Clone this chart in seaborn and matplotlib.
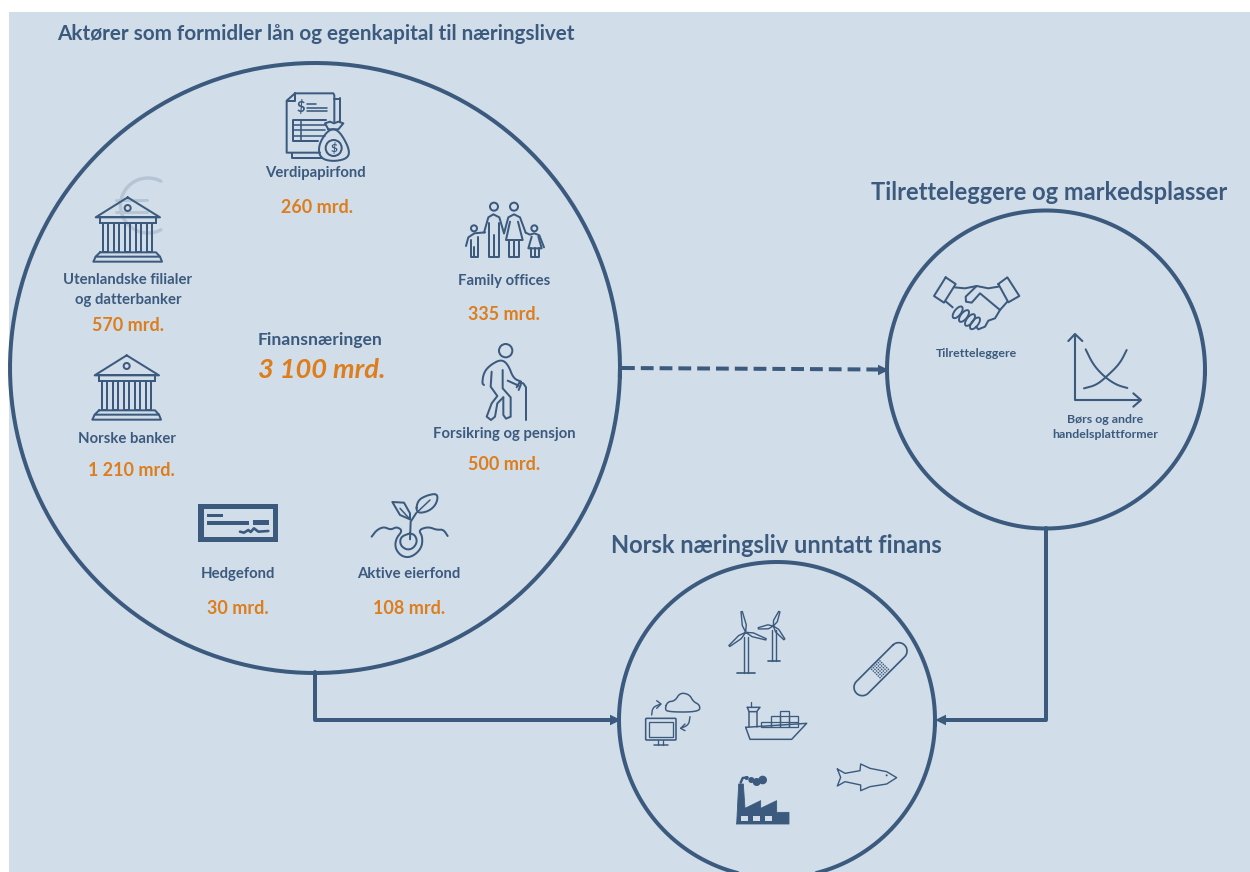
import numpy as np
import pandas as pd
import matplotlib
matplotlib.use("Agg")
import matplotlib.pyplot as plt
from matplotlib.patches import Rectangle, Circle, Ellipse, FancyBboxPatch
import seaborn as sns

# ---------- content ----------
title_main = "Aktører som formidler lån og egenkapital til næringslivet"
title_right = "Tilretteleggere og markedsplasser"
title_bottom = "Norsk næringsliv unntatt finans"
total_label = "Finansnæringen"
total_value = 3100
actors = ["Utenlandske filialer\nog datterbanker", "Norske banker", "Verdipapirfond",
          "Family offices", "Forsikring og pensjon", "Hedgefond", "Aktive eierfond"]
amounts = [570, 1210, 260, 335, 500, 30, 108]
facilitators = ["Tilretteleggere", "Børs og andre\nhandelsplattformer"]

NAVY = "#3b5a7d"
ORANGE = "#dd7d1b"
BG = "#d1dde9"
EURO = "#b6c5d4"

sns.set_theme(style="white")
plt.rcParams["font.family"] = ["Lato", "DejaVu Sans"]

fig = plt.figure(figsize=(12.5, 8.72), dpi=100, facecolor="white")
ax = fig.add_axes([0, 0, 1, 1])
ax.axis("off")
ax.add_patch(Rectangle((9, 12), 1241, 860, fc=BG, ec="none", zorder=0))

PX = 0.72  # points per pixel
DY = 1.5   # vertical text nudge


def amount_text(v):
    return f"{v:,}".replace(",", " ") + " mrd."


def seaborn_line(xs, ys, lw=4.0, **kw):
    df = pd.DataFrame({"x": xs, "y": ys})
    sns.lineplot(data=df, x="x", y="y", sort=False, estimator=None, ax=ax, color=NAVY,
                 linewidth=lw * PX, legend=False, zorder=3, **kw)


def big_circle(cx, cy, r):
    t = np.linspace(0, 2 * np.pi + 0.03, 365)
    seaborn_line(cx + r * np.cos(t), cy + r * np.sin(t))


def arrowhead(x, y, dx, dy, size=11):
    nx, ny = -dy, dx
    ax.fill([x, x - dx * size + nx * size * .48, x - dx * size - nx * size * .48],
            [y, y - dy * size + ny * size * .48, y - dy * size - ny * size * .48],
            color=NAVY, lw=0, zorder=4)


def z(o, pts):
    a = np.asarray(pts, float) / 3.0
    return a + np.asarray(o, float)


def smooth(a, n=3, closed=False):
    a = np.asarray(a, float)
    for _ in range(n):
        if closed:
            b = np.roll(a, -1, axis=0)
            a = np.column_stack([.75 * a + .25 * b, .25 * a + .75 * b]).reshape(-1, 2)
        else:
            s, e = a[0], a[-1]
            q = .75 * a[:-1] + .25 * a[1:]
            r = .25 * a[:-1] + .75 * a[1:]
            a = np.vstack([s, np.column_stack([q, r]).reshape(-1, 2), e])
    return a


def pl(o, pts, lw=2.0, closed=False, soft=False, color=NAVY, fill=None):
    a = z(o, pts)
    if soft:
        a = smooth(a, closed=closed)
    if closed:
        a = np.vstack([a, a[0]])
    if fill:
        ax.fill(a[:, 0], a[:, 1], color=fill, lw=0, zorder=4)
    ax.plot(a[:, 0], a[:, 1], color=color, lw=lw * PX, solid_capstyle="round",
            solid_joinstyle="round", zorder=5)


def ring(o, c, r, lw=2.0, fill="none"):
    p = z(o, [c])[0]
    ax.add_patch(Circle(p, r / 3.0, fc=fill, ec=NAVY, lw=lw * PX, zorder=5))


def box(o, x0, y0, x1, y1, fill=None, lw=2.0):
    (a, b), (c, d) = z(o, [(x0, y0), (x1, y1)])
    ax.add_patch(Rectangle((a, b), c - a, d - b, fc=fill or "none",
                           ec=NAVY if fill is None else "none",
                           lw=lw * PX if fill is None else 0, zorder=5))


def label(x, y, s, size=10.7, color=NAVY, weight="bold", spacing=1.55, **kw):
    ax.text(x, y + DY, s, fontsize=size, color=color, fontweight=weight, ha=kw.pop("ha", "center"),
            va="center", linespacing=spacing, zorder=6, **kw)


# ---------- circles and connectors ----------
big_circle(315, 368, 305)
big_circle(1046, 369.5, 159)
big_circle(777, 720, 158)
seaborn_line([622, 878], [368, 369.5], lw=4.0, linestyle=(0, (3.2, 1.5)))
arrowhead(889, 370, 1, 0)
seaborn_line([315, 315, 610], [672, 720, 720])
arrowhead(621, 720, 1, 0)
seaborn_line([1046, 1046, 945], [528, 720, 720])
arrowhead(935, 720, -1, 0)


# ---------- icons ----------
def bank(dx, dy):
    o = (50 + dx, 80 + dy)
    pl(o, [(233, 352), (137, 412), (330, 412)], closed=True)
    ring(o, (233, 384), 9)
    box(o, 150, 412, 318, 428)
    for x in (160, 193, 226, 259, 292):
        box(o, x, 428, x + 15, 515)
    pl(o, [(150, 517), (318, 517), (330, 530), (137, 530), (150, 517)])
    pl(o, [(137, 530), (130, 545), (336, 545), (330, 530)])


# euro watermark behind the first bank
t = np.radians(np.linspace(62, 298, 80))
ax.plot(148 + 27.5 * np.cos(t), 205.5 - 27.5 * np.sin(t), color=EURO, lw=3.4 * PX, zorder=2)
for y in (200, 212):
    ax.plot([116, 147], [y, y], color=EURO, lw=3.0 * PX, zorder=2)
bank(0, 0)
bank(-1, 158)

# Document with money bag
o = (50, 80)
pl(o, [(735, 40), (850, 40), (853, 46), (853, 125)])
pl(o, [(735, 40), (710, 62), (710, 218), (810, 218)])
pl(o, [(735, 40), (735, 62), (710, 62)])
pl(o, [(870, 55), (870, 125)]); pl(o, [(853, 56), (870, 56)])
pl(o, [(727, 220), (727, 235), (815, 235)])
ax.text(*z(o, [(751, 83)])[0], "$", fontsize=10.5, color=NAVY, fontweight="bold",
        ha="center", va="center", zorder=6)
for y, x1 in ((72, 798), (83, 832), (94, 832)):
    pl(o, [(771, y), (x1, y)], lw=1.6)
pl(o, [(828, 120), (730, 120), (730, 182), (805, 182)])
for y in (136, 151, 167):
    pl(o, [(730, y), (825, y)], lw=1.6)
pl(o, [(753, 120), (753, 182)], lw=1.6)
pl(o, [(835, 148), (805, 195), (810, 235), (850, 245), (895, 235), (898, 205), (865, 148)],
   closed=True, soft=True, fill=BG)
pl(o, [(835, 148), (825, 130), (840, 125), (852, 130), (865, 125), (880, 130), (865, 148)],
   closed=True, fill=BG)
ring(o, (851, 204), 24)
ax.text(*z(o, [(851, 204)])[0], "$", fontsize=8.5, color=NAVY, fontweight="bold",
        ha="center", va="center", zorder=6)

# Family
o = (360, 190)
for c, r in (((402, 50), 12), ((462, 50), 12), ((342, 115), 9), ((523, 115), 9)):
    ring(o, c, r)
pl(o, [(372, 128), (385, 82), (400, 73), (418, 82), (432, 130)])
pl(o, [(388, 100), (388, 200), (418, 200), (418, 100)])
pl(o, [(403, 135), (403, 200)])
pl(o, [(432, 130), (445, 82), (462, 73), (480, 82), (497, 128)])
pl(o, [(450, 95), (438, 150), (488, 150), (474, 95)])
pl(o, [(447, 150), (447, 200), (478, 200), (478, 150)])
pl(o, [(462, 150), (462, 200)])
pl(o, [(318, 168), (325, 142), (343, 130), (375, 127)])
pl(o, [(332, 150), (332, 200), (355, 200), (355, 140)])
pl(o, [(343, 170), (343, 200)])
pl(o, [(497, 128), (510, 134), (523, 130), (538, 136), (552, 172)])
pl(o, [(515, 140), (505, 175), (545, 175), (535, 140)])
pl(o, [(513, 175), (513, 200), (536, 200), (536, 175)])
pl(o, [(524, 175), (524, 200)])

# Senior
ring(o, (437, 482), 20)
pl(o, [(372, 585), (366, 580), (372, 545), (395, 522), (425, 508), (445, 525), (460, 565), (483, 575)], soft=True)
pl(o, [(483, 575), (482, 585), (476, 600)])
pl(o, [(476, 587), (443, 572)])
pl(o, [(395, 545), (392, 590), (412, 618), (395, 640), (380, 680), (393, 690), (405, 680), (412, 640), (430, 622)])
pl(o, [(428, 540), (428, 595), (452, 622), (452, 680), (438, 686), (430, 675), (430, 622)])
pl(o, [(470, 592), (478, 578), (490, 580), (498, 592), (498, 690)])

# Cheque
o = (180, 480)
box(o, 55, 73, 295, 88, fill=NAVY); box(o, 55, 170, 295, 185, fill=NAVY)
box(o, 55, 73, 72, 185, fill=NAVY); box(o, 278, 73, 295, 185, fill=NAVY)
box(o, 82, 101, 130, 111, fill=NAVY)
box(o, 82, 124, 207, 134, fill=NAVY)
box(o, 220, 119, 267, 134, fill=NAVY)
pl(o, [(180, 155), (192, 158), (205, 150), (212, 156), (222, 145), (235, 155), (265, 153)], lw=2.6)

# Sprout
pl(o, [(690, 178), (692, 125), (708, 100)])
pl(o, [(690, 118), (660, 105), (637, 66), (672, 68), (690, 100), (690, 118)], closed=True)
pl(o, [(708, 100), (712, 62), (740, 46), (774, 40), (770, 72), (745, 95)], closed=True, soft=True)
pl(o, [(660, 85), (690, 118)], lw=1.5)
pl(o, [(750, 60), (708, 100)], lw=1.5)
pl(o, [(575, 170), (590, 150), (612, 140), (632, 150), (650, 140), (668, 152), (648, 175), (645, 205), (665, 230), (695, 232), (725, 205), (728, 170), (715, 150), (745, 140), (770, 150), (790, 148), (803, 168)], soft=True)
pl(o, [(690, 160), (662, 170), (660, 195), (680, 210), (700, 205), (712, 185), (705, 165), (690, 160)], soft=True)

# Handshake
o = (920, 260)
pl(o, [(77, 52), (107, 72), (72, 128), (42, 108)], closed=True)
pl(o, [(235, 72), (262, 52), (298, 108), (265, 127)], closed=True)
pl(o, [(103, 82), (135, 85), (170, 78), (205, 85), (235, 80)])
pl(o, [(240, 150), (180, 100), (155, 128), (138, 125), (137, 110), (170, 78)])
pl(o, [(240, 150), (262, 125)])
pl(o, [(78, 125), (98, 142)])
pl(o, [(240, 150), (225, 175), (205, 182), (195, 200), (175, 208), (168, 200)])
for c in ((113, 157), (132, 168), (150, 180), (165, 190)):
    p = z(o, [c])[0]
    ax.add_patch(Ellipse(p, 14, 6.5, angle=-52, fc="none", ec=NAVY, lw=1.9 * PX, zorder=5))

# Supply and demand
pl(o, [(465, 225), (465, 420), (660, 420)], lw=2.1)
pl(o, [(445, 243), (465, 222), (487, 243)], lw=2.1)
pl(o, [(640, 400), (663, 420), (640, 440)], lw=2.1)
pl(o, [(497, 268), (520, 315), (555, 352), (590, 375), (622, 384)], soft=True)
pl(o, [(492, 385), (530, 375), (565, 345), (600, 310), (620, 270)], soft=True)

# Wind turbines
o = (630, 600)
def blade(hub, tip, w):
    h, tp = np.array(hub, float), np.array(tip, float)
    d = (tp - h) / np.linalg.norm(tp - h)
    n = np.array([-d[1], d[0]])
    pts = [h, h + (tp - h) * .35 + n * w, tp + n * 2, tp - n * 2, h + (tp - h) * .35 - n * w]
    pl(o, pts, lw=1.4, closed=True)

for hub, tips in (((347, 97), ((335, 35), (408, 118), (298, 138))),
                  ((430, 78), ((448, 35), (385, 85), (463, 118)))):
    for tp in tips:
        blade(hub, tp, 6)
pl(o, [(341, 110), (341, 220)], lw=1.4); pl(o, [(355, 110), (355, 220)], lw=1.4)
pl(o, [(322, 220), (375, 220)], lw=1.7)
pl(o, [(426, 90), (426, 182)], lw=1.4); pl(o, [(439, 90), (439, 182)], lw=1.4)
pl(o, [(413, 182), (450, 182)], lw=1.7)

# Plaster
p0, p1 = np.array([697., 262.]), np.array([806., 153.])
d = (p1 - p0) / np.linalg.norm(p1 - p0)
ang0 = np.arctan2(d[1], d[0])
ta = np.linspace(ang0 - np.pi / 2, ang0 + np.pi / 2, 24)
tb = ta + np.pi
cap = np.vstack([p1 + 25 * np.column_stack([np.cos(ta), np.sin(ta)]),
                 p0 + 25 * np.column_stack([np.cos(tb), np.sin(tb)])])
pl(o, cap, lw=1.7, closed=True)
for i in range(6):
    for j in range(6):
        c = z(o, [(750 + (i - 2.5) * 5 + (j - 2.5) * 5, 208 + (i - 2.5) * 5 - (j - 2.5) * 5)])[0]
        ax.add_patch(Circle(c, .8, fc=NAVY, ec="none", zorder=5))

# Cloud and monitor
pl(o, [(105, 325), (113, 305), (135, 303), (150, 278), (178, 283), (190, 305), (210, 315), (208, 336), (112, 336)], closed=True, soft=True, lw=1.5)
(a, b), (c, e) = z(o, [(47, 355), (138, 420)])
ax.add_patch(FancyBboxPatch((a + 1, b + 1), c - a - 2, e - b - 2, boxstyle="round,pad=1", fc="none", ec=NAVY, lw=1.6 * PX, zorder=5))
box(o, 56, 365, 130, 410, lw=1.3)
pl(o, [(85, 420), (85, 435)], lw=1.3); pl(o, [(100, 420), (100, 435)], lw=1.3)
pl(o, [(73, 436), (113, 436)], lw=1.5)
pl(o, [(65, 345), (68, 322), (92, 312)], soft=True, lw=1.4)
pl(o, [(80, 302), (93, 312), (80, 325)], lw=1.4)
pl(o, [(180, 350), (176, 375), (152, 385)], soft=True, lw=1.4)
pl(o, [(165, 372), (152, 385), (165, 392)], lw=1.4)

# Ship
pl(o, [(347, 382), (530, 370), (485, 418), (360, 418)], closed=True, lw=1.5)
for x0, y0, x1 in ((392, 365, 422), (422, 348, 449), (449, 332, 477), (477, 348, 505)):
    box(o, x0, y0, x1, 380, lw=1.3)
pl(o, [(422, 365), (505, 365)], lw=1.2)
pl(o, [(449, 348), (477, 348)], lw=1.2)
pl(o, [(357, 335), (357, 380)], lw=1.5); pl(o, [(380, 335), (380, 380)], lw=1.5)
pl(o, [(352, 322), (390, 322), (380, 335), (357, 335)], closed=True, lw=1.5)
pl(o, [(362, 305), (362, 322)], lw=1.3)

# Factory
pl(o, [(320, 672), (326, 552), (340, 552), (345, 625), (392, 602), (392, 625), (440, 602),
       (440, 637), (477, 637), (477, 672)], closed=True, lw=.8, fill=NAVY)
box(o, 332, 647, 355, 662, fill=BG)
box(o, 368, 647, 391, 662, fill=BG)
box(o, 404, 647, 427, 662, fill=BG)
pl(o, [(332, 548), (338, 534), (352, 532)], lw=2.4)
for c, r in (((350, 534), 6), ((364, 540), 9), ((380, 546), 12), ((398, 540), 13)):
    p = z(o, [c])[0]
    ax.add_patch(Circle(p, r / 3, fc=NAVY, ec="none", zorder=5))

# Fish
pl(o, [(622, 507), (645, 520), (690, 512), (692, 492), (720, 505), (770, 515), (800, 533),
       (770, 552), (720, 560), (692, 572), (692, 555), (645, 545), (622, 558), (632, 532)],
   closed=True, lw=1.4)
p = z(o, [(770, 526)])[0]
ax.add_patch(Circle(p, 1.0, fc=NAVY, ec="none", zorder=5))

# ---------- text ----------
label(57, 32, title_main, size=14.9, ha="left")
label(1049, 191, title_right, size=17.0)
label(776, 544, title_bottom, size=17.0)
label(320, 338, total_label, size=12.6)
label(322, 368, amount_text(total_value), size=19.6, color=ORANGE, style="italic")

name_xy = [(128, 288.5), (127, 437), (315, 172), (504, 279), (504, 432), (238, 572), (409, 572)]
value_xy = [(128, 324), (131, 469), (317, 206), (504, 313), (504, 463), (238, 607), (409, 607)]
for name, v, nxy, vxy in zip(actors, amounts, name_xy, value_xy):
    label(*nxy, name)
    label(*vxy, amount_text(v), size=12.9, color=ORANGE)

label(977, 352, facilitators[0], size=8.9)
label(1105.5, 425.5, facilitators[1], size=8.9, spacing=1.42)

ax.set_xlim(0, 1250)
ax.set_ylim(872, 0)
ax.set_xlabel("")
ax.set_ylabel("")
ax.axis("off")
fig.savefig("out.png", dpi=100, facecolor="white")
